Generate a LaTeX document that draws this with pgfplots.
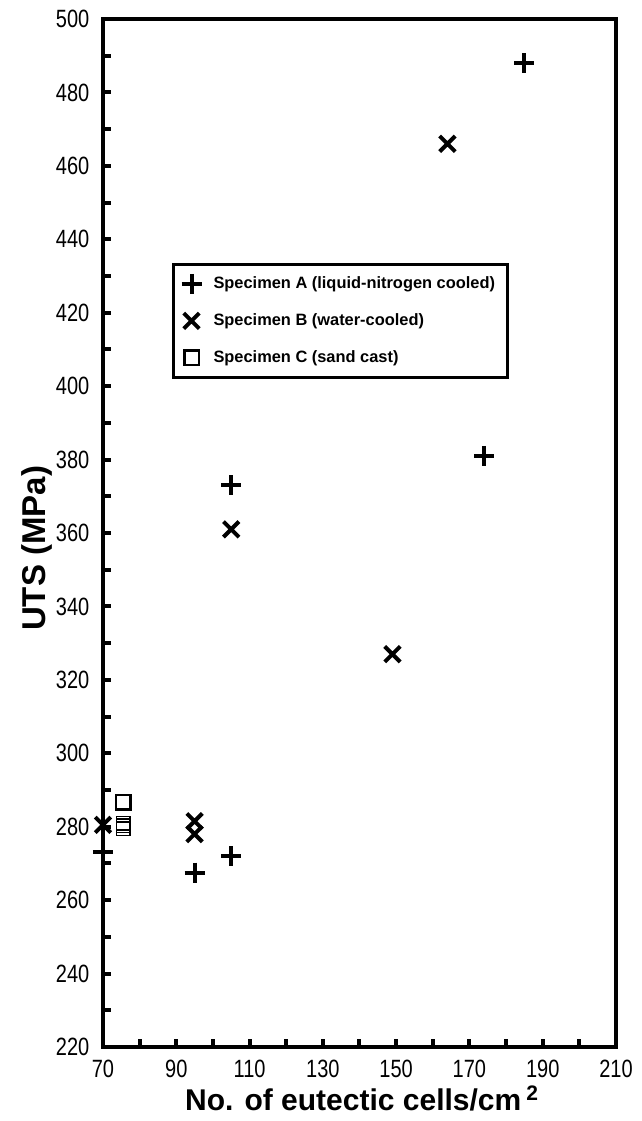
\documentclass[border=0pt]{standalone}
\usepackage{fontspec}
\setmainfont{Liberation Sans}
\newfontfamily\tickfont[FakeStretch=0.8]{Liberation Sans}
\usepackage{pgfplots}
\pgfplotsset{compat=1.18}
\begin{document}
\begin{tikzpicture}
\begin{axis}[
  scale only axis, width=256.5pt, height=514pt,
  xmin=70, xmax=210, ymin=220, ymax=500,
  clip=false,
  line width=2pt,
  tick pos=left, tick align=inside,
  xtick={70,90,...,210}, minor xtick={80,100,...,200},
  ytick={220,240,...,500}, minor ytick={230,250,...,490},
  major tick length=4pt, minor tick length=4pt,
  major tick style={line width=2pt, black},
  minor tick style={line width=2pt, black},
  tick label style={font=\tickfont\fontsize{12.5}{13}\selectfont},
  /pgf/number format/assume math mode=true,
  yticklabel style={xshift=-2.5pt},
  xticklabel style={yshift=-2pt},
  xlabel={No. of eutectic cells/cm\,\textsuperscript{2}},
  ylabel={UTS (MPa)},
  xlabel style={font=\bfseries\fontsize{15}{16}\selectfont,
    at={(axis description cs:0.505,-0.062)}, anchor=base},
  ylabel style={font=\bfseries\fontsize{16.5}{17}\selectfont,
    at={(axis description cs:-0.128,0.485)}, anchor=center},
  legend style={at={(0.1345,0.7626)}, anchor=north west, line width=1.5pt,
    font=\bfseries\fontsize{8.2}{10}\selectfont, row sep=7pt,
    inner xsep=4pt, inner ysep=4pt,
    /tikz/every odd column/.append style={column sep=4pt}},
  legend cell align=left,
]
\addplot[only marks, mark=+, mark size=5pt, line width=2pt] coordinates {
  (70,273) (95,267.5) (105,272) (105,373) (174,381) (185,488)
};
\addlegendentry{Specimen A (liquid-nitrogen cooled)}
\addplot[only marks, mark=x, mark size=5.5pt, line width=2pt] coordinates {
  (70,280.5) (95,281.5) (95,278) (105,361) (149,327) (164,466)
};
\addlegendentry{Specimen B (water-cooled)}
\addplot[only marks, mark=square, mark size=3.6pt, line width=1.2pt] coordinates {
  (75.5,286.7)
};
\addlegendentry{Specimen C (sand cast)}
\addplot[forget plot, only marks, mark=square, mark size=3.4pt, line width=0.7pt] coordinates {
  (75.5,281.0) (75.5,280.2) (75.5,279.4)
};
\end{axis}
\pgfresetboundingbox
\path (-51.5pt,-37pt) rectangle (269.5pt,523.5pt);
\end{tikzpicture}
\end{document}
